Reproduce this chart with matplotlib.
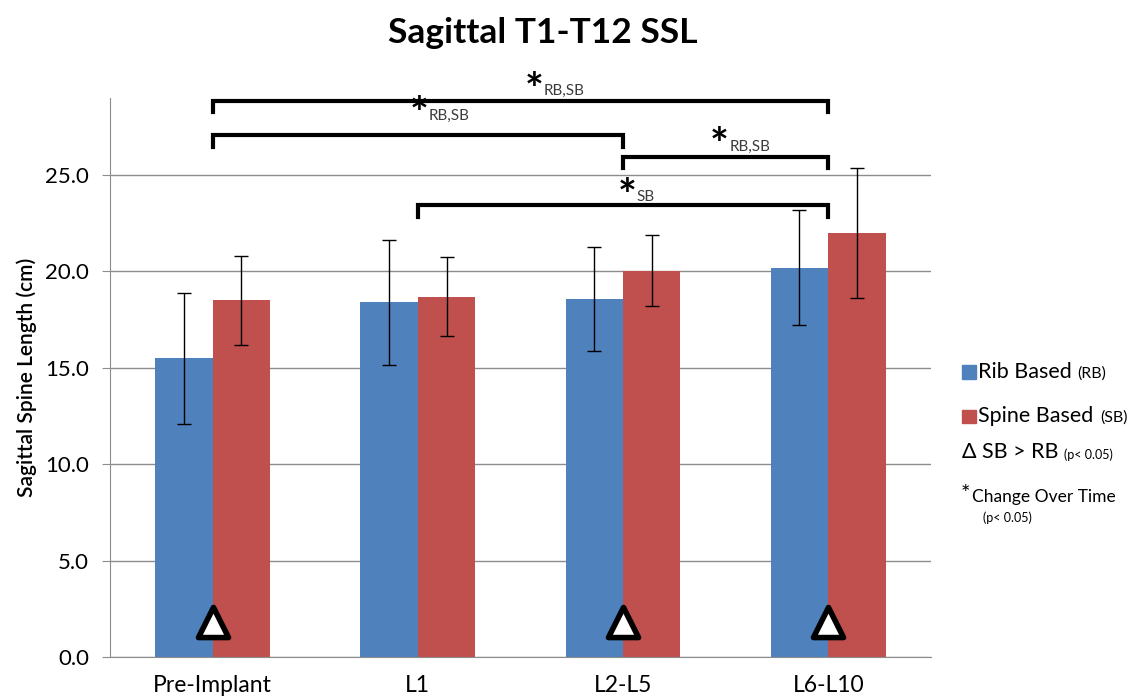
import matplotlib
matplotlib.use("Agg")
import matplotlib.pyplot as plt
import numpy as np

plt.rcParams['font.family'] = ['Lato', 'DejaVu Sans']

# data
categories = ['Pre-Implant', 'L1', 'L2-L5', 'L6-L10']
rib_based = [15.5, 18.4, 18.55, 20.2]
rib_err = [3.4, 3.25, 2.7, 2.98]
spine_based = [18.5, 18.7, 20.05, 22.0]
spine_err = [2.3, 2.05, 1.85, 3.35]
# SB > RB significant at these groups
sig_groups = [0, 2, 3]
# change-over-time brackets: (from group, to group, level, label)
brackets = [(0, 3, 28.85, 'RB,SB'),
            (0, 2, 27.07, 'RB,SB'),
            (2, 3, 25.95, 'RB,SB'),
            (1, 3, 23.45, 'SB')]

blue = '#4F81BD'
red = '#C0504D'
grid_c = '#8C8C8C'

fig = plt.figure(figsize=(11.4, 7), dpi=100)
ax = fig.add_axes([0.0965, 0.0614, 0.72, 0.7986])

x = np.arange(len(categories))
w = 0.28
ax.bar(x - w / 2, rib_based, w, color=blue, zorder=2)
ax.bar(x + w / 2, spine_based, w, color=red, zorder=2)
ax.errorbar(x - w / 2, rib_based, yerr=rib_err, fmt='none', ecolor='black',
            elinewidth=1, capsize=5, capthick=1, zorder=3)
ax.errorbar(x + w / 2, spine_based, yerr=spine_err, fmt='none', ecolor='black',
            elinewidth=1, capsize=5, capthick=1, zorder=3)

# triangles for SB > RB
ax.scatter(x[sig_groups], [1.8] * len(sig_groups), marker='^', s=470,
           facecolor='white', edgecolor='black', linewidth=4, zorder=5)

ax.set_xlim(-0.5, 3.5)
ax.set_ylim(0, 29)
ax.set_yticks([0, 5, 10, 15, 20, 25])
ax.set_yticklabels(['%.1f' % v for v in [0, 5, 10, 15, 20, 25]])
ax.set_xticks(x)
ax.set_xticklabels(categories)
ax.tick_params(axis='x', length=0, pad=13, labelsize=16.5)
ax.tick_params(axis='y', length=6, color=grid_c, pad=9, labelsize=16)
ax.yaxis.grid(True, color=grid_c, linewidth=1)
ax.set_axisbelow(True)
for s in ['top', 'right']:
    ax.spines[s].set_visible(False)
for s in ['left', 'bottom']:
    ax.spines[s].set_color(grid_c)
ax.set_ylabel('Sagittal Spine Length (cm)', fontsize=15, fontweight='semibold',
              labelpad=6)

# brackets
tick = 0.6
for a, b, lvl, lab in brackets:
    ax.plot([a, a, b, b], [lvl - tick, lvl, lvl, lvl - tick], color='black',
            linewidth=3, clip_on=False, zorder=4, solid_joinstyle='miter')

# star labels (centre of the star glyph)
star_pos = [(1.565, 30.1), (1.005, 28.85), (2.47, 27.23), (2.02, 24.6)]
for (sx, sy), (a, b, lvl, lab) in zip(star_pos, brackets):
    ax.annotate('*', xy=(sx, sy), xytext=(0, -10), textcoords='offset points',
                fontsize=32, fontweight='bold', ha='center', va='center',
                annotation_clip=False)
    ax.annotate(lab, xy=(sx, sy), xytext=(7, -10.5), textcoords='offset points',
                fontsize=11, color='#3c3c3c', ha='left', va='center',
                annotation_clip=False)

fig.text(0.476, 0.953, 'Sagittal T1-T12 SSL', fontsize=25.5, fontweight='bold',
         ha='center', va='center')

# legend drawn by hand
fig.patches.append(plt.Rectangle((0.8435, 0.459), 0.0128, 0.019, color=blue,
                                 transform=fig.transFigure))
fig.patches.append(plt.Rectangle((0.8435, 0.396), 0.0128, 0.019, color=red,
                                 transform=fig.transFigure))
fig.text(0.858, 0.469, 'Rib Based', fontsize=15.5, va='center')
fig.text(0.945, 0.467, '(RB)', fontsize=11.5, va='center')
fig.text(0.858, 0.406, 'Spine Based', fontsize=15.5, va='center')
fig.text(0.965, 0.404, '(SB)', fontsize=11.5, va='center')
fig.text(0.844, 0.354, '\u0394 SB > RB', fontsize=15.5, va='center')
fig.text(0.933, 0.350, '(p< 0.05)', fontsize=9, va='center')
fig.text(0.847, 0.294, '*', fontsize=16, va='center', ha='center')
fig.text(0.853, 0.290, 'Change Over Time', fontsize=12.5, va='center')
fig.text(0.862, 0.261, '(p< 0.05)', fontsize=9, va='center')

fig.savefig('out.png', dpi=100)
